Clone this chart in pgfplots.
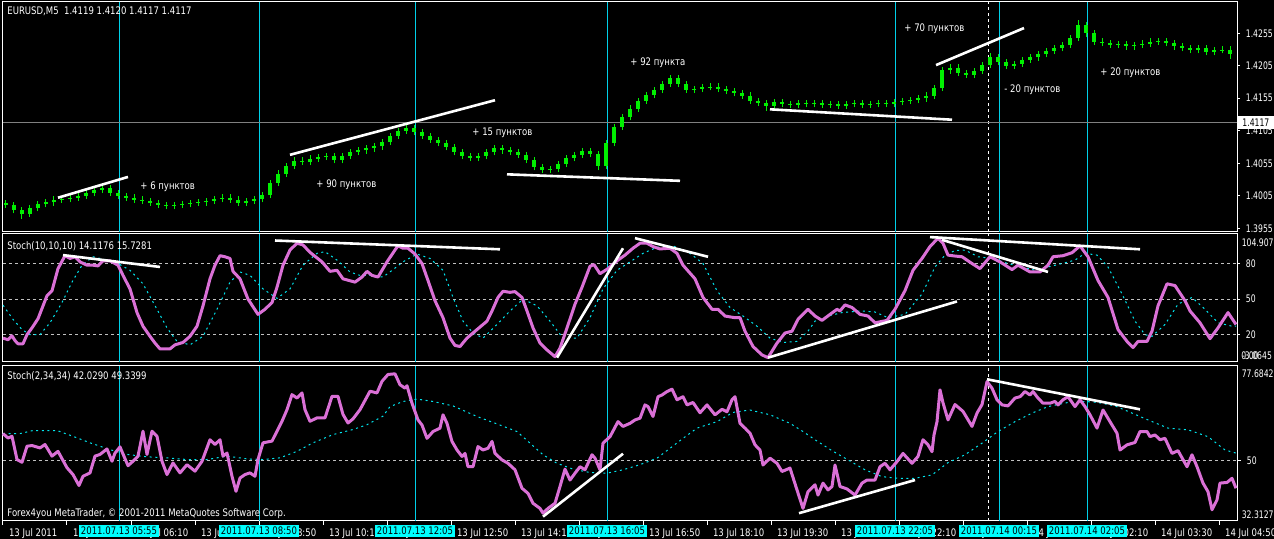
\documentclass[border=0pt]{standalone}
\usepackage{pgfplots}
\pgfplotsset{compat=1.18}
\usepackage{pgfplotstable}
\usepackage{fontspec}
\setmainfont{DejaVu Sans}[FakeStretch=0.82]
\newfontfamily\narrowf{DejaVu Sans}[FakeStretch=0.74]
\newcommand\fs{\fontsize{5.2pt}{6pt}\selectfont}
\newcommand\fr{\narrowf\fontsize{5.2pt}{6pt}\selectfont}
\definecolor{mtorchid}{HTML}{DA70D6}
\definecolor{mtsig}{HTML}{00E5EE}
\definecolor{mtvl}{HTML}{00D0E8}
\definecolor{mtaqua}{HTML}{00FFFF}
\definecolor{mtlime}{HTML}{00F000}
\definecolor{mtgrid}{HTML}{C0C0C0}

\pgfplotstableread{
x o c h l
6 1.3994 1.3991 1.3999 1.3986
14 1.3991 1.3983 1.3996 1.3978
22 1.3983 1.3977 1.3988 1.3970
30 1.3977 1.3986 1.3991 1.3972
38 1.3986 1.3992 1.3997 1.3981
46 1.3992 1.3995 1.4000 1.3987
54 1.3995 1.3999 1.4004 1.3990
62 1.3999 1.4000 1.4005 1.3994
70 1.4000 1.4002 1.4007 1.3995
78 1.4002 1.4005 1.4010 1.3997
86 1.4005 1.4009 1.4014 1.4000
94 1.4009 1.4014 1.4019 1.4004
102 1.4014 1.4017 1.4022 1.4009
110 1.4017 1.4009 1.4022 1.4004
118 1.4009 1.4005 1.4014 1.4000
126 1.4005 1.4002 1.4010 1.3997
134 1.4002 1.3999 1.4007 1.3994
142 1.3999 1.3997 1.4004 1.3992
150 1.3997 1.3994 1.4002 1.3989
158 1.3994 1.3991 1.3999 1.3986
166 1.3991 1.3989 1.3996 1.3984
174 1.3989 1.3991 1.3996 1.3984
182 1.3991 1.3992 1.3997 1.3986
190 1.3992 1.3994 1.3999 1.3987
198 1.3994 1.3995 1.4000 1.3989
206 1.3995 1.3997 1.4002 1.3990
214 1.3997 1.4000 1.4005 1.3992
222 1.4000 1.4002 1.4007 1.3995
230 1.4002 1.3999 1.4007 1.3994
238 1.3999 1.3994 1.4004 1.3989
246 1.3994 1.3997 1.4002 1.3989
254 1.3997 1.4000 1.4005 1.3992
262 1.4000 1.4006 1.4011 1.3995
270 1.4006 1.4025 1.4030 1.4001
278 1.4025 1.4039 1.4044 1.4020
286 1.4039 1.4051 1.4056 1.4034
294 1.4051 1.4059 1.4064 1.4046
302 1.4059 1.4057 1.4064 1.4052
310 1.4057 1.4062 1.4067 1.4052
318 1.4062 1.4065 1.4070 1.4057
326 1.4065 1.4066 1.4071 1.4060
334 1.4066 1.4060 1.4071 1.4055
342 1.4060 1.4066 1.4071 1.4055
350 1.4066 1.4072 1.4077 1.4061
358 1.4072 1.4075 1.4080 1.4067
366 1.4075 1.4078 1.4083 1.4070
374 1.4078 1.4081 1.4086 1.4073
382 1.4081 1.4088 1.4093 1.4076
390 1.4088 1.4097 1.4102 1.4083
398 1.4097 1.4105 1.4110 1.4092
406 1.4105 1.4109 1.4114 1.4100
414 1.4109 1.4103 1.4114 1.4098
422 1.4103 1.4097 1.4108 1.4092
430 1.4097 1.4091 1.4102 1.4086
438 1.4091 1.4086 1.4096 1.4081
446 1.4086 1.4080 1.4091 1.4075
454 1.4080 1.4072 1.4085 1.4067
462 1.4072 1.4066 1.4077 1.4061
470 1.4066 1.4063 1.4071 1.4058
478 1.4063 1.4066 1.4071 1.4058
486 1.4066 1.4072 1.4077 1.4061
494 1.4072 1.4078 1.4083 1.4067
502 1.4078 1.4075 1.4083 1.4070
510 1.4075 1.4072 1.4080 1.4067
518 1.4072 1.4068 1.4077 1.4063
526 1.4068 1.4060 1.4073 1.4055
534 1.4060 1.4049 1.4065 1.4044
542 1.4049 1.4045 1.4054 1.4040
550 1.4045 1.4046 1.4051 1.4040
558 1.4046 1.4054 1.4059 1.4041
566 1.4054 1.4063 1.4068 1.4049
574 1.4063 1.4068 1.4073 1.4058
582 1.4068 1.4074 1.4079 1.4063
590 1.4074 1.4069 1.4079 1.4064
598 1.4069 1.4051 1.4074 1.4044
606 1.4051 1.4086 1.4091 1.4046
614 1.4086 1.4111 1.4116 1.4081
622 1.4111 1.4126 1.4131 1.4106
630 1.4126 1.4139 1.4144 1.4121
638 1.4139 1.4151 1.4156 1.4134
646 1.4151 1.4160 1.4165 1.4146
654 1.4160 1.4168 1.4173 1.4155
662 1.4168 1.4177 1.4182 1.4163
670 1.4177 1.4186 1.4191 1.4172
678 1.4186 1.4177 1.4191 1.4172
686 1.4177 1.4168 1.4182 1.4163
694 1.4168 1.4169 1.4174 1.4163
702 1.4169 1.4172 1.4177 1.4164
710 1.4172 1.4173 1.4178 1.4167
718 1.4173 1.4169 1.4178 1.4164
726 1.4169 1.4166 1.4174 1.4161
734 1.4166 1.4163 1.4171 1.4158
742 1.4163 1.4159 1.4168 1.4154
750 1.4159 1.4151 1.4164 1.4146
758 1.4151 1.4148 1.4156 1.4143
766 1.4148 1.4143 1.4153 1.4136
774 1.4143 1.4149 1.4154 1.4138
782 1.4149 1.4146 1.4154 1.4141
790 1.4146 1.4145 1.4151 1.4140
798 1.4145 1.4148 1.4153 1.4140
806 1.4148 1.4146 1.4153 1.4141
814 1.4146 1.4148 1.4153 1.4141
822 1.4148 1.4145 1.4153 1.4140
830 1.4145 1.4146 1.4151 1.4140
838 1.4146 1.4143 1.4151 1.4138
846 1.4143 1.4146 1.4151 1.4138
854 1.4146 1.4148 1.4153 1.4141
862 1.4148 1.4145 1.4153 1.4140
870 1.4145 1.4146 1.4151 1.4140
878 1.4146 1.4148 1.4153 1.4141
886 1.4148 1.4146 1.4153 1.4141
894 1.4146 1.4149 1.4154 1.4141
902 1.4149 1.4151 1.4156 1.4144
910 1.4151 1.4152 1.4157 1.4146
918 1.4152 1.4155 1.4160 1.4147
926 1.4155 1.4159 1.4164 1.4150
934 1.4159 1.4171 1.4176 1.4154
942 1.4171 1.4198 1.4203 1.4166
950 1.4198 1.4202 1.4208 1.4193
958 1.4202 1.4194 1.4207 1.4189
966 1.4194 1.4191 1.4199 1.4186
974 1.4191 1.4197 1.4202 1.4186
982 1.4197 1.4206 1.4211 1.4192
990 1.4206 1.4218 1.4224 1.4201
998 1.4218 1.4211 1.4223 1.4206
1006 1.4211 1.4205 1.4216 1.4200
1014 1.4205 1.4208 1.4213 1.4200
1022 1.4208 1.4214 1.4219 1.4203
1030 1.4214 1.4218 1.4223 1.4209
1038 1.4218 1.4223 1.4228 1.4213
1046 1.4223 1.4228 1.4233 1.4218
1054 1.4228 1.4232 1.4237 1.4223
1062 1.4232 1.4237 1.4242 1.4227
1070 1.4237 1.4248 1.4253 1.4232
1078 1.4248 1.4268 1.4275 1.4243
1086 1.4268 1.4255 1.4273 1.4250
1094 1.4255 1.4242 1.4260 1.4237
1102 1.4242 1.4240 1.4247 1.4235
1110 1.4240 1.4237 1.4245 1.4232
1118 1.4237 1.4238 1.4243 1.4232
1126 1.4238 1.4235 1.4243 1.4230
1134 1.4235 1.4237 1.4242 1.4230
1142 1.4237 1.4239 1.4244 1.4232
1150 1.4239 1.4242 1.4247 1.4234
1158 1.4242 1.4243 1.4248 1.4237
1166 1.4243 1.4240 1.4248 1.4235
1174 1.4240 1.4235 1.4245 1.4230
1182 1.4235 1.4232 1.4240 1.4227
1190 1.4232 1.4229 1.4237 1.4224
1198 1.4229 1.4232 1.4237 1.4224
1206 1.4232 1.4226 1.4237 1.4221
1214 1.4226 1.4229 1.4234 1.4221
1222 1.4229 1.4230 1.4235 1.4224
1230 1.4230 1.4223 1.4235 1.4216
}\candles

\pgfplotstableread{
x v
3 17.1
8 15.7
12 19
15 15
18 12.3
23 12.3
27 20
32 25.7
38 33.4
47 52.9
52 57
58 75.7
65 86.6
70 84.3
75 85.7
80 81.4
87 78.6
93 78.6
98 78
103 82.3
110 82.3
118 78.6
123 70
130 58.6
137 38.6
143 27.1
150 18.6
155 12.9
160 8
170 8
175 11.4
183 13.4
190 18.6
197 27.1
203 44.3
210 67.1
215 78.6
220 86.6
225 85.7
230 84.3
233 73.4
240 67.1
248 50
258 37.1
265 41.4
272 47.1
277 60
283 78.6
290 91.4
297 97.1
303 95.7
310 89.4
322 81.4
330 73.4
337 74.3
343 67.1
355 64.3
362 68.6
367 73.4
372 70
378 68.6
387 81.4
395 91.4
398 94.9
403 92.9
408 92.9
415 88
422 80
428 65.7
435 48.6
443 34.3
450 17.1
455 10.9
460 10
467 17.1
477 24.3
487 31.4
492 40
498 51.4
503 56.6
510 55.7
515 56.3
522 51.4
527 40
533 25.7
540 12.9
547 7.1
555 1.4
560 8.6
567 25.7
575 45.7
582 60
590 77.7
594 79.1
600 71.4
608 75.7
617 82.3
625 87.1
633 92.9
640 97.1
647 97.1
653 94.3
660 92.3
670 92.9
677 88.6
683 78.6
695 67.1
703 51.4
712 41.4
718 41.4
725 35.7
735 34.3
740 34.3
745 22.9
753 10
762 2.9
768 0.6
777 12.9
785 21.4
792 22.9
798 32.9
808 41.4
815 35.7
822 32
830 37.1
837 41.4
840 40
845 45.1
852 42.9
860 37.1
868 35.7
875 30
887 32
895 41.4
905 57.1
913 74.3
922 84.3
930 94.3
938 101.4
943 97.1
948 87.1
955 86.3
962 85.7
972 80
980 75.7
990 85.7
1000 81.4
1012 74.9
1018 78.6
1030 72.9
1040 72.9
1048 78.6
1053 85.7
1063 86.6
1072 89.1
1080 94.9
1088 85.7
1098 65.7
1108 51.4
1118 24.3
1127 14.3
1133 9.1
1138 14.3
1147 14.3
1152 22.9
1158 44.3
1167 62.9
1175 61.4
1185 48.6
1190 40
1200 30
1210 16.6
1218 25.7
1228 38.6
1236 28.6
}\kone

\pgfplotstableread{
x v
3 44.9
13 32.9
22 24.3
30 20
40 20
50 30
62 47.1
72 64.3
82 78.6
93 85.7
107 82.9
118 80
130 74.3
143 62.9
157 41.4
167 25.7
177 14.3
190 11.4
203 18.6
217 41.4
230 64.3
240 72.9
250 70
263 58.6
277 50.6
290 58.6
303 78.6
317 88.6
325 90
337 82.9
350 72.9
360 70
370 70
383 68.6
390 72.9
403 81.4
417 88
430 84.3
443 74.3
453 51.4
463 31.4
473 21.4
483 17.1
497 28.6
510 40
523 50
537 44.3
550 31.4
563 17.1
577 17.1
590 34.3
603 58.6
617 74.3
630 81.4
643 88.6
657 93.7
673 94.9
690 88.6
703 80
717 57.1
730 42.9
743 35.7
757 27.1
770 17.1
783 13.4
797 14.3
808 22.9
815 31.4
828 35.7
842 38.6
862 40
875 39.1
888 34.3
905 37.1
922 54.3
935 77.1
945 87.1
955 90.9
965 91.4
978 85.7
992 84.3
1008 80
1022 77.1
1035 74.3
1048 77.1
1062 80
1075 82.9
1085 88.6
1097 87.1
1108 77.1
1122 54.3
1135 31.4
1145 20
1152 18.6
1165 28.6
1178 45.7
1192 51.4
1205 41.4
1218 30
1232 27.1
1236 27.1
}\done

\pgfplotstableread{
x v
3 57.9
8 56.6
12 57.1
17 50.3
22 49.5
27 54.2
32 54.4
40 53.7
45 54.7
52 51.3
58 52.7
67 47.9
73 45.9
79 42.7
83 45.4
90 46.4
95 51.3
100 51.8
107 53.4
112 49.8
115 52.2
120 54
128 48.5
133 49.8
138 51.3
143 58.6
147 51.8
152 58.6
157 57.1
162 49.8
167 45.9
173 49.3
180 46.4
187 48.8
195 46.9
202 49.8
210 56.1
215 54.7
220 56.1
223 51.3
227 52.2
232 45.4
236 41
240 44.9
245 45.9
250 46.4
255 45.4
258 50.3
263 55.2
272 55.7
277 58.6
282 61.5
287 64.9
292 69.3
297 68.3
302 69.8
305 64.9
310 61.5
317 62.5
325 62.5
332 68.8
338 68.8
343 63.5
348 61
353 62.2
360 64.9
370 70.3
377 69.8
382 73.2
388 75.2
395 75.4
400 72.2
405 71.2
407 71.9
412 66.8
418 61.9
422 60.4
427 56.5
433 58.5
440 59.5
443 63.4
447 60.9
452 55.6
457 53.1
462 51.2
465 52.1
468 48.2
473 48.2
478 54.1
483 53.1
488 53.6
492 55.6
495 52.1
502 50.2
508 49.2
515 47.3
522 41.9
528 40.4
533 37.5
540 36
543 34.6
548 36
555 37.5
560 42.4
565 47.5
570 44.3
575 46.3
580 48.2
585 47.3
592 51.7
595 50.7
600 47.3
603 55.1
610 57
618 61.4
623 60
630 60.9
635 61.9
640 62.4
645 66.3
648 65.8
653 62.9
658 68.7
662 69.2
667 70.2
672 70.9
677 67.8
683 68.7
687 66.3
693 67
700 64
707 66.3
715 63.4
722 65
727 64.3
732 67.8
735 68.7
740 60.9
745 59.5
750 58
755 54.6
760 53.1
763 48.7
770 50.7
777 49.2
782 46.8
790 47.8
797 41.4
803 36
808 40.9
815 42.9
818 39.9
823 43.4
828 41.4
832 42.4
835 48.7
840 42.4
847 41.7
855 39.9
862 43.4
867 44.3
875 44.3
880 48.2
885 49.2
890 47.3
897 49.7
903 52.1
912 49.2
918 51.2
923 56.1
928 54.6
932 52.6
934 57.5
937 61.4
940 70.7
943 66.9
948 61.9
955 66.4
963 64.4
972 60
977 63.9
982 66.4
987 73.1
992 71.2
997 67.8
1002 66.3
1008 66
1015 68.3
1020 68.7
1025 70.2
1030 69.2
1033 70.2
1038 68.3
1043 66.8
1050 66.8
1055 67.3
1058 66.3
1063 67.8
1068 68.7
1075 65.8
1080 67.8
1085 65.8
1090 63.4
1097 59.5
1103 64.8
1110 61.4
1117 58
1120 53.1
1127 54.6
1135 55.3
1140 58.5
1147 58.5
1150 57
1155 57.5
1160 56.1
1165 56.5
1172 52.1
1178 52.9
1187 48.2
1192 51.7
1197 48.2
1203 43.4
1208 40.9
1212 35.6
1217 38.5
1220 43.4
1227 43.6
1232 44.8
1236 41.9
}\ktwo

\pgfplotstableread{
x v
3 57.9
20 57.9
33 58.8
57 58.8
73 57.1
90 55.2
110 53.2
127 51.8
147 51.1
167 50.8
187 50.3
207 50.3
227 51.3
247 50.5
263 50.3
280 50.8
297 52.7
313 55.2
333 57.6
353 59.1
367 60.5
383 63
390 65.8
403 67.3
417 68
433 67.3
453 66
477 62.9
500 60.4
517 58.5
530 55.1
543 51.7
557 49.2
573 47.5
590 46.5
607 46.3
623 47.3
640 48.8
657 50.7
670 53.6
683 56.5
697 59.5
717 61.4
733 64.1
750 64.8
770 63.4
790 60.9
803 58.5
815 56.1
832 52.9
848 50.2
865 47.3
882 45.3
898 44.8
915 44.8
932 45.8
948 49.4
965 51.7
982 55.1
998 58.5
1015 61.4
1032 63.9
1048 65.8
1068 67
1085 67.3
1098 67
1115 66
1132 63.9
1148 61.9
1168 59.5
1188 59
1208 57
1225 53.1
1237 52.1
}\dtwo

\pgfplotsset{
  mtpanel/.style={
    scale only axis, width=617pt, anchor=south west,
    xmin=3, xmax=1237, clip=false,
    axis line style={white, line width=0.5pt},
    tick style={white, line width=0.5pt},
    tick align=outside, major tick length=1.5pt,
    xtick=\empty,
    ytick pos=right, yticklabel pos=right,
    ticklabel style={white, font=\fs},
    yticklabel style={font=\fr, xshift=-0.6pt},
  },
  mtgridstyle/.style={ymajorgrids, grid style={mtgrid, line width=0.5pt, dash pattern=on 1.5pt off 1.5pt}},
  tline/.style={white, line width=1.3pt},
  kline/.style={mtorchid, line width=1.5pt, line join=round},
  dline/.style={mtsig, line width=0.5pt, dash pattern=on 1pt off 1.8pt},
  vline/.style={mtvl, line width=0.5pt},
  wdash/.style={white, line width=0.5pt, dash pattern=on 1.5pt off 1.5pt},
}

\begin{document}
\begin{tikzpicture}
\path[use as bounding box] (0,0) rectangle (637pt,269.5pt);
\fill[black] (0,0) rectangle (637pt,269.5pt);

% ---------------- price panel
\begin{axis}[mtpanel, at={(1.5pt,153.5pt)}, height=115pt,
  ymin=1.39493, ymax=1.43031,
  ytick={1.3955,1.4005,1.4055,1.4105,1.4155,1.4205,1.4255},
  yticklabels={1.3955,1.4005,1.4055,1.4105,1.4155,1.4205,1.4255}]
\pgfplotsinvokeforeach{119,259,415,607,895,999,1087}{\addplot[vline] coordinates {(#1,1.39493)(#1,1.43031)};}
\addplot[wdash] coordinates {(988,1.39493)(988,1.43031)};
\addplot[gray, line width=0.5pt] coordinates {(3,1.4117)(1237,1.4117)};
\addplot[mtlime, line width=0.5pt, quiver={u=0, v=\thisrow{h}-\thisrow{l}}] table[x=x, y=l] {\candles};
\addplot[mtlime, line width=1.7pt, quiver={u=0, v=\thisrow{c}-\thisrow{o}}] table[x=x, y=o] {\candles};
\addplot[tline] coordinates {(58,1.4002)(128,1.4034)};
\addplot[tline] coordinates {(290,1.4068)(495,1.4152)};
\addplot[tline] coordinates {(507,1.4038)(680,1.4028)};
\addplot[tline] coordinates {(770,1.4138)(952,1.4122)};
\addplot[tline] coordinates {(936,1.4206)(1024,1.4263)};
\node[anchor=north west, inner sep=0, white, font=\fs, xshift=2pt, yshift=-2.4pt] at (rel axis cs:0,1) {EURUSD,M5\ \ 1.4119 1.4120 1.4117 1.4117};
\begin{scope}[every node/.style={anchor=west, inner sep=0, white, font=\fs}]
\node at (axis cs:140,1.40185) {+ 6 пунктов};
\node at (axis cs:316,1.4022) {+ 90 пунктов};
\node at (axis cs:472,1.4102) {+ 15 пунктов};
\node at (axis cs:630,1.4210) {+ 92 пункта};
\node at (axis cs:904,1.4262) {+ 70 пунктов};
\node at (axis cs:1004,1.4168) {- 20 пунктов};
\node at (axis cs:1100,1.4195) {+ 20 пунктов};
\end{scope}
\coordinate (bid) at (axis cs:1237,1.4117);
\end{axis}
\node[anchor=west, fill=white, text=black, font=\fr, inner xsep=2pt, inner ysep=0pt, minimum height=6.5pt, text width=18pt, align=left, xshift=0.5pt] at (bid) {1.4117};

% ---------------- stochastic 10,10,10
\begin{axis}[mtpanel, mtgridstyle, at={(1.5pt,88.5pt)}, height=64pt,
  ymin=-3.0645, ymax=104.9075,
  ytick={20,50,80}, yticklabels={20,50,80}]
\pgfplotsinvokeforeach{119,259,415,607,895,999,1087}{\addplot[vline] coordinates {(#1,-3.0645)(#1,104.9075)};}
\addplot[wdash] coordinates {(988,-3.0645)(988,104.9075)};
\addplot[dline] table[x=x,y=v] {\done};
\addplot[kline] table[x=x,y=v] {\kone};
\addplot[tline] coordinates {(63,87.1)(160,77.1)};
\addplot[tline] coordinates {(275,99.4)(500,92)};
\addplot[tline] coordinates {(557,0.6)(623,92.9)};
\addplot[tline] coordinates {(635,101.4)(708,85.7)};
\addplot[tline] coordinates {(768,0.6)(957,48)};
\addplot[tline] coordinates {(930,102.3)(1140,92)};
\addplot[tline] coordinates {(942,100)(1048,72.9)};
\node[anchor=north west, inner sep=0, white, font=\fs, xshift=2pt, yshift=-3.5pt] at (rel axis cs:0,1) {Stoch(10,10,10) 14.1176 15.7281};
\node[anchor=north west, inner sep=0, white, font=\fr, xshift=2.2pt, yshift=-2.2pt] at (rel axis cs:1,1) {104.9075};
\node[anchor=base west, inner sep=0, white, font=\fr, xshift=2.4pt, yshift=1pt] at (rel axis cs:1,0) {-3.0645};
\node[anchor=base west, inner sep=0, white, font=\fr, xshift=2.0pt, yshift=1pt] at (rel axis cs:1,0) {0.00};
\end{axis}

% ---------------- stochastic 2,34,34
\begin{axis}[mtpanel, mtgridstyle, at={(1.5pt,9pt)}, height=77.5pt,
  ymin=32.3127, ymax=77.6842,
  ytick={50}, yticklabels={50},
  major tick length=2pt,
  xtick={3,67,131,195,259,323,387,451,515,579,643,707,771,835,899,963,1027,1091,1155,1219},
  xticklabels={13 Jul 2011,13 Jul 04:50,13 Jul 06:10,13 Jul 07:30,13 Jul 08:50,13 Jul 10:10,13 Jul 11:30,13 Jul 12:50,13 Jul 14:10,13 Jul 15:30,13 Jul 16:50,13 Jul 18:10,13 Jul 19:30,13 Jul 20:50,13 Jul 22:10,13 Jul 23:30,14 Jul 00:50,14 Jul 02:10,14 Jul 03:30,14 Jul 04:50},
  xtick pos=left,
  xticklabel style={anchor=north west, xshift=-0.5pt, yshift=1.6pt}]
\pgfplotsinvokeforeach{119,259,415,607,895,999,1087}{\addplot[vline] coordinates {(#1,32.3127)(#1,77.6842)};}
\addplot[wdash] coordinates {(988,32.3127)(988,77.6842)};
\addplot[dline] table[x=x,y=v] {\dtwo};
\addplot[kline] table[x=x,y=v] {\ktwo};
\addplot[tline] coordinates {(543,33.6)(623,52)};
\addplot[tline] coordinates {(799,34.6)(915,44.3)};
\addplot[tline] coordinates {(987,73.8)(1140,65)};
\node[anchor=north west, inner sep=0, white, font=\fs, xshift=2pt, yshift=-2.6pt] at (rel axis cs:0,1) {Stoch(2,34,34) 42.0290 49.3399};
\node[anchor=base west, inner sep=0, white, font=\fs, xshift=2pt, yshift=2.3pt] at (rel axis cs:0,0) {Forex4you MetaTrader, © 2001-2011 MetaQuotes Software Corp.};
\node[anchor=north west, inner sep=0, white, font=\fr, xshift=2.2pt, yshift=-1.45pt] at (rel axis cs:1,1) {77.6842};
\node[anchor=base west, inner sep=0, white, font=\fr, xshift=2.2pt, yshift=1.45pt] at (rel axis cs:1,0) {32.3127};
\coordinate (b1) at (axis cs:119,32.3127);
\coordinate (b2) at (axis cs:259,32.3127);
\coordinate (b3) at (axis cs:415,32.3127);
\coordinate (b4) at (axis cs:607,32.3127);
\coordinate (b5) at (axis cs:895,32.3127);
\coordinate (b6) at (axis cs:999,32.3127);
\coordinate (b7) at (axis cs:1087,32.3127);
\end{axis}
\begin{scope}[every node/.style={anchor=north, fill=mtaqua, text=black, font=\fs, inner xsep=1pt, inner ysep=0pt, minimum height=5.6pt, yshift=-2pt}]
\node at (b1) {2011.07.13 05:55};
\node at (b2) {2011.07.13 08:50};
\node at (b3) {2011.07.13 12:05};
\node at (b4) {2011.07.13 16:05};
\node at (b5) {2011.07.13 22:05};
\node at (b6) {2011.07.14 00:15};
\node at (b7) {2011.07.14 02:05};
\end{scope}
\end{tikzpicture}
\end{document}
